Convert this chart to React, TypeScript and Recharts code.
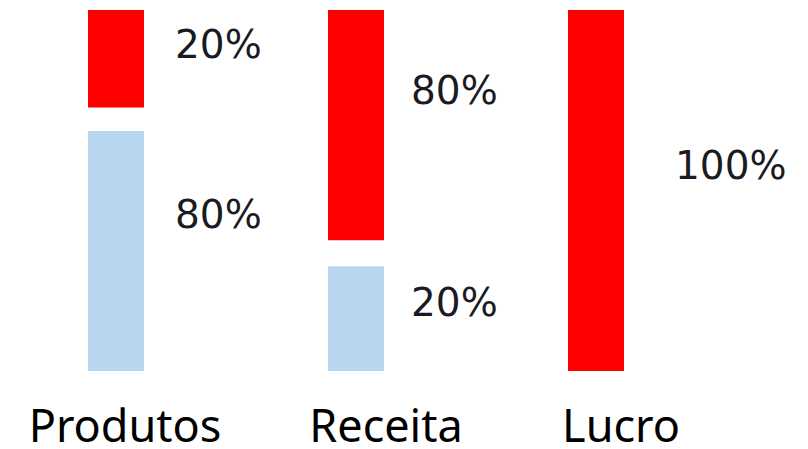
import React from "react";
import { BarChart, Bar, XAxis, YAxis, LabelList } from "recharts";

// categorias e valores (altura visual de cada segmento, escala 0-100)
const categories = ["Produtos", "Receita", "Lucro"];
const baseValues = [66.5, 29, 0];
const gapValues = [6.5, 7.2, 0];
const topValues = [27, 63.8, 100];
const baseLabels = ["80%", "20%", ""];
const topLabels = ["20%", "80%", "100%"];

// ajustes finos de posição dos textos, por categoria
const tickNudge = [-11, 10, 5];
const labelNudgeX = [0, -4, 20];
const labelNudgeY = [0, 0, 29];

const data = categories.map((name, i) => ({
  name,
  base: baseValues[i],
  gap: gapValues[i],
  top: topValues[i],
  baseLabel: baseLabels[i],
  topLabel: topLabels[i],
}));

/**
 * Rótulo de porcentagem à direita da barra
 */
const renderPercent = (props: any): JSX.Element | null => {
  const { x, y, width, height, value, index } = props;
  if (!value) return null;
  return (
    <text
      x={Number(x) + Number(width) + 31 + (labelNudgeX[index] || 0)}
      y={Number(y) + Number(height) * 0.35 + (labelNudgeY[index] || 0)}
      dominantBaseline="central"
      fontFamily="DejaVu Sans"
      fontSize={39}
      fill="#1a1a22"
    >
      {value}
    </text>
  );
};

/**
 * Tick da categoria
 */
const CategoryTick = (props: any): JSX.Element => {
  const { x, y, payload, index } = props;
  return (
    <text
      x={Number(x) + 20 + (tickNudge[index] || 0)}
      y={Number(y) + 63}
      textAnchor="middle"
      fontFamily="Noto Sans"
      fontSize={45}
      fill="#000"
    >
      {payload.value}
    </text>
  );
};

const App: React.FC = (): JSX.Element => {
  return (
    <div style={{ position: "fixed", left: 0, top: 0, background: "#fff" }}>
      <BarChart
        width={808}
        height={449}
        data={data}
        margin={{ top: 10, right: 92, left: -4, bottom: 0 }}
      >
        <XAxis
          dataKey="name"
          axisLine={false}
          tickLine={false}
          height={78}
          tick={<CategoryTick />}
          interval={0}
        />
        <YAxis hide domain={[0, 100]} />
        {/* Segmento inferior */}
        <Bar dataKey="base" stackId="a" fill="#B8D6F0" barSize={56} isAnimationActive={false}>
          <LabelList dataKey="baseLabel" content={renderPercent} />
        </Bar>
        {/* Espaço entre segmentos */}
        <Bar dataKey="gap" stackId="a" fill="transparent" barSize={56} isAnimationActive={false} />
        {/* Segmento superior */}
        <Bar dataKey="top" stackId="a" fill="#FF0000" barSize={56} isAnimationActive={false}>
          <LabelList dataKey="topLabel" content={renderPercent} />
        </Bar>
      </BarChart>
    </div>
  );
};

export default App;
